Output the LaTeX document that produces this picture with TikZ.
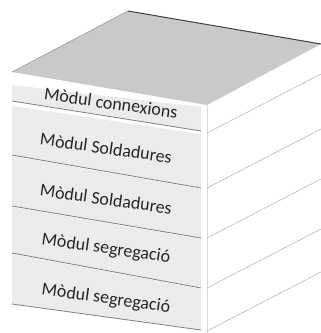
\documentclass[tikz,border=0pt]{standalone}
\usepackage{fontspec}
\setmainfont{Carlito}
\begin{document}
\begin{tikzpicture}[x=1pt,y=-1pt]
\tikzset{modlabel/.style={rotate=-8, inner sep=0pt, text=black!85, font=\fontsize{18}{20}\selectfont}}
\useasboundingbox (0,0) rectangle (321,333);
%% top face
\fill[fill=black!21] (12,72) -- (128,11) -- (321,44) -- (207,105) -- cycle;
\draw[black!40, line width=0.6pt] (12,72) -- (128,11);
\draw[black!75, line width=1pt] (128,11) -- (321,44);
%% front face
\foreach \tl/\tr/\bl/\br in {85/107/101/131, 106/134/155/188, 156/189/206/238, 207/239/253/288, 254/289/304/330}
  \fill[black!8] (12,\tl) -- (201,\tr) -- (201,\br) -- (12,\bl) -- cycle;
\foreach \bl/\br in {101/131, 155/188, 206/238, 253/288, 304/330}
  \draw[black!50, line width=0.8pt] (12,\bl) -- (201,\br);
%% side face
\draw[black!15, line width=0.6pt] (207,105) -- (207,333);
\foreach \y in {133,188,238,288,331}
  \draw[black!28, line width=0.6pt] (207,\y) -- (321,\y-59);
%% labels
\node (conn) at (111,103) [modlabel] {Mòdul connexions};
\node (sold1) at (106,148) [modlabel] {Mòdul Soldadures};
\node (sold2) at (106,199) [modlabel] {Mòdul Soldadures};
\node (segr1) at (106,249) [modlabel] {Mòdul segregació};
\node (segr2) at (106,299) [modlabel] {Mòdul segregació};
\end{tikzpicture}
\end{document}
